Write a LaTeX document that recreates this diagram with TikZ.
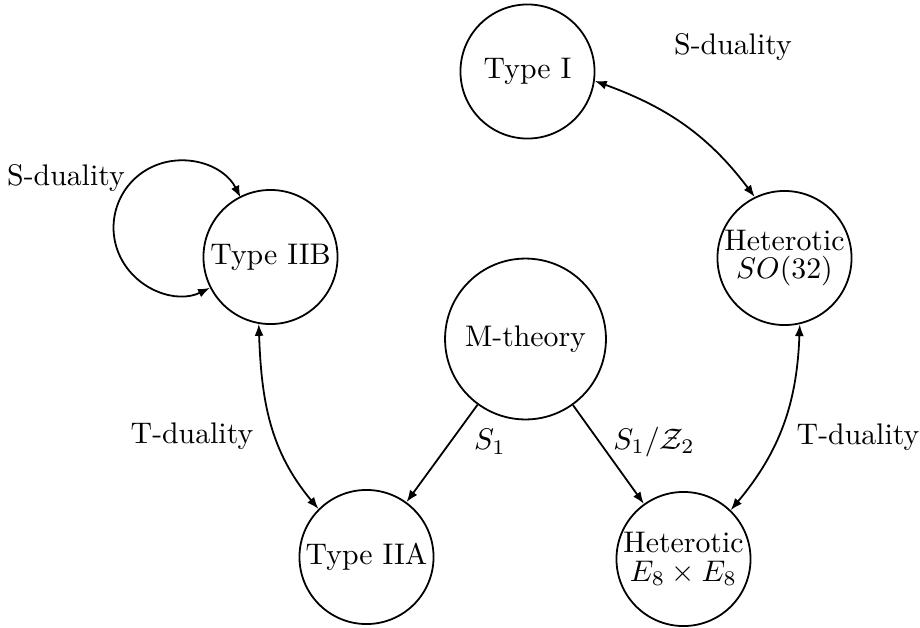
\documentclass[tikz,border=0pt]{standalone}
\usetikzlibrary{arrows.meta}
\begin{document}
\begin{tikzpicture}[x=0.3356pt, y=0.3356pt,
  theory/.style={draw, circle, line width=0.6pt, inner sep=0pt, minimum size=45pt, align=center},
  conn/.style={line width=0.6pt},
  tip/.style={{Latex[length=4pt,width=3pt]}-{Latex[length=4pt,width=3pt]}},
  onetip/.style={-{Latex[length=4pt,width=3pt]}},
  lab/.style={inner sep=0pt}]
\useasboundingbox (0,0) rectangle (920,627);
\node[theory] (TI)  at (527.5,555.5) {Type I};
\node[theory] (SO)  at (784.5,369) {Heterotic\\[-2.3pt]$SO(32)$};
\node[theory] (IIB) at (270.5,370) {Type IIB};
\node[theory, minimum size=54pt] (M) at (525.5,288) {M-theory};
\node[theory] (IIA) at (366.5,70) {Type IIA};
\node[theory] (E8)  at (683.5,68) {Heterotic\\[-2.3pt]$E_8\times E_8$};

\node[lab] (sd1) at (733,580) {S-duality};
\node[lab] (sd2) at (66,449) {S-duality};
\node[lab] (td1) at (192,191) {T-duality};
\node[lab] (td2) at (858,190) {T-duality};
\node[lab] (s1)  at (490,185) {$S_1$};
\node[lab] (s1z) at (654,185) {$S_1/\mathcal{Z}_2$};

\draw[conn, tip] (TI.-8) to[out=-20, in=127] (SO.116);
\draw[conn, tip] (IIB.260) to[out=-88, in=130] (IIA.135);
\draw[conn, tip] (SO.283) to[out=-92, in=50] (E8.46);
\draw[conn, onetip] (M) -- (IIA);
\draw[conn, onetip] (M) -- (E8);
\draw[conn, tip] (IIB.207) arc[start angle=-64, end angle=-333.4, radius=22.5pt];
\end{tikzpicture}
\end{document}
